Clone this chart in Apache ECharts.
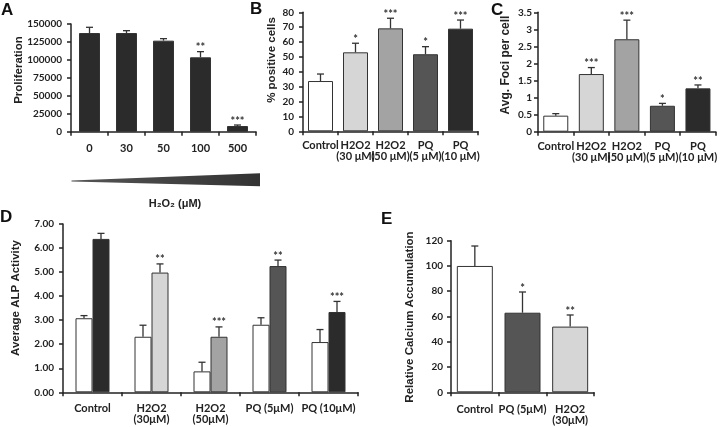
<!DOCTYPE html>
<html lang="en">
<head>
    <meta charset="UTF-8">
    <title>Oxidative stress panels</title>
    <style>
        html, body { margin: 0; padding: 0; background: #fff; }
        #main { width: 720px; height: 427px; }
    </style>
    <script src="https://cdn.jsdelivr.net/npm/echarts@6/dist/echarts.min.js"></script>
</head>
<body>
<div id="main"></div>
<script>
    // panel A - proliferation vs H2O2 dose
    const aCats = ['0', '30', '50', '100', '500'];
    const aVals = [137400, 137400, 126800, 103600, 7900];
    const aErr = [8000, 3300, 2800, 7900, 1400];
    const aStars = ['', '', '', '**', '***'];
    const aTicks = [0, 25000, 50000, 75000, 100000, 125000, 150000];

    // panel B - % positive cells
    const bCats = ['Control', 'H2O2\n(30 μM)', 'H2O2\n(50 μM)', 'PQ\n(5 μM)', 'PQ\n(10 μM)'];
    const bVals = [33.8, 53.1, 69.2, 51.8, 69];
    const bErr = [4.7, 6.1, 6.8, 5.1, 5.8];
    const bStars = ['', '*', '***', '*', '***'];

    // panel C - foci per cell
    const cCats = ['Control', 'H2O2\n(30 μM)', 'H2O2\n(50 μM)', 'PQ\n(5 μM)', 'PQ\n(10 μM)'];
    const cVals = [0.47, 1.69, 2.71, 0.76, 1.27];
    const cErr = [0.06, 0.19, 0.56, 0.07, 0.1];
    const cStars = ['', '***', '***', '*', '**'];

    // panel D - ALP activity, two bars per group
    const dCats = ['Control', 'H2O2\n(30μM)', 'H2O2\n(50μM)', 'PQ (5μM)', 'PQ (10μM)'];
    const dBase = [3.08, 2.31, 0.87, 2.81, 2.09];
    const dBaseErr = [0.11, 0.48, 0.38, 0.29, 0.52];
    const dTreat = [6.38, 4.98, 2.31, 5.25, 3.34];
    const dTreatErr = [0.23, 0.36, 0.41, 0.25, 0.44];
    const dStars = ['', '**', '***', '**', '***'];

    // panel E - calcium accumulation
    const eCats = ['Control', 'PQ (5μM)', 'H2O2\n(30μM)'];
    const eVals = [100, 63, 52];
    const eErr = [15.8, 16.4, 9.2];
    const eStars = ['', '*', '**'];

    const catColors = ['#ffffff', '#d6d6d6', '#a3a3a3', '#555555', '#2b2b2b'];
    const dColors = ['#2b2b2b', '#d6d6d6', '#a3a3a3', '#555555', '#2b2b2b'];
    const eColors = ['#ffffff', '#555555', '#d6d6d6'];

    const chartDom = document.getElementById('main');
    const myChart = echarts.init(chartDom);

    const lbl = {fontFamily: 'Lato', fontWeight: 'bold', fontSize: 10, color: '#222'};
    const axLine = {lineStyle: {color: '#222', width: 1.5}};
    const axTick = {show: true, length: 4, lineStyle: {color: '#222', width: 1.5}};

    function xAx(idx, cats, margin) {
        return {
            type: 'category', gridIndex: idx, data: cats,
            axisLine: axLine, axisTick: axTick,
            axisLabel: Object.assign({}, lbl, {margin: margin, lineHeight: 11, interval: 0, fontSize: 11})
        };
    }
    function yAx(idx, max, interval, fmt, margin) {
        return {
            type: 'value', gridIndex: idx, min: 0, max: max, interval: interval,
            axisLine: Object.assign({show: true}, axLine), axisTick: axTick,
            splitLine: {show: false},
            axisLabel: Object.assign({margin: margin || 8, formatter: fmt || (v => String(v))}, lbl)
        };
    }

    function barSeries(idx, vals, colors, width) {
        return {
            type: 'bar', xAxisIndex: idx, yAxisIndex: idx, barWidth: width, barGap: '0%',
            data: vals.map((v, i) => ({
                value: v,
                itemStyle: {color: colors[i], borderColor: '#333', borderWidth: 1}
            }))
        };
    }

    function errSeries(idx, vals, errs, stars, offset) {
        return {
            type: 'custom', xAxisIndex: idx, yAxisIndex: idx, z: 10,
            data: vals.map((v, i) => [i, v, errs[i]]),
            renderItem: function (params, api) {
                const i = api.value(0), v = api.value(1), e = api.value(2);
                const base = api.coord([i, v]);
                const top = api.coord([i, v + e]);
                const x = base[0] + offset;
                const st = {stroke: '#333', lineWidth: 1.3};
                const kids = [
                    {type: 'line', shape: {x1: x, y1: base[1], x2: x, y2: top[1]}, style: st},
                    {type: 'line', shape: {x1: x - 3.5, y1: top[1], x2: x + 3.5, y2: top[1]}, style: st}
                ];
                const s = stars[params.dataIndex];
                if (s) {
                    kids.push({
                        type: 'text', x: x, y: top[1] - 4,
                        style: {text: s, align: 'center', verticalAlign: 'middle',
                            font: 'bold 11px Lato', fill: '#333'}
                    });
                }
                return {type: 'group', children: kids};
            }
        };
    }

    function letter(t, x, y) {
        return {type: 'text', left: x, top: y,
            style: {text: t, font: 'bold 17px "Liberation Sans"', fill: '#111'}};
    }
    function yTitle(t, x, y, size) {
        return {type: 'text', x: x, y: y, rotation: Math.PI / 2,
            style: {text: t, align: 'center', verticalAlign: 'middle',
                font: 'bold ' + size + 'px "Liberation Sans"', fill: '#222'}};
    }

    let option = {
        animation: false,
        grid: [
            {left: 71, top: 24, width: 185, height: 107.7},
            {left: 303, top: 12.3, width: 175, height: 119},
            {left: 538, top: 12.3, width: 180, height: 119.4},
            {left: 63, top: 224, width: 295, height: 168.3},
            {left: 451, top: 240.7, width: 143, height: 151.6}
        ],
        xAxis: [
            xAx(0, aCats, 11),
            xAx(1, bCats, 9),
            xAx(2, cCats, 9),
            xAx(3, dCats, 11),
            xAx(4, eCats, 12)
        ],
        yAxis: [
            yAx(0, aTicks[aTicks.length - 1], 25000, null, 9),
            yAx(1, 80, 10, null, 9),
            yAx(2, 3.5, 0.5, null, 6),
            yAx(3, 7, 1, v => v.toFixed(2), 9),
            yAx(4, 120, 20, null, 8)
        ],
        series: [
            barSeries(0, aVals, aVals.map(() => '#2b2b2b'), 21),
            errSeries(0, aVals, aErr, aStars, 0),
            barSeries(1, bVals, catColors, 25),
            errSeries(1, bVals, bErr, bStars, 0),
            barSeries(2, cVals, catColors, 25),
            errSeries(2, cVals, cErr, cStars, 0),
            barSeries(3, dBase, dBase.map(() => '#ffffff'), 17),
            barSeries(3, dTreat, dColors, 17),
            errSeries(3, dBase, dBaseErr, dBase.map(() => ''), -8.5),
            errSeries(3, dTreat, dTreatErr, dStars, 8.5),
            barSeries(4, eVals, eColors, 36),
            errSeries(4, eVals, eErr, eStars, 0)
        ],
        graphic: [
            letter('A', 1, 2),
            letter('B', 250, 1),
            letter('C', 491, 2),
            letter('D', 0, 209),
            letter('E', 381, 211),
            {
                type: 'polygon',
                shape: {points: [[71.5, 180.5], [260, 173.3], [260, 186.3], [71.5, 181.5]]},
                style: {fill: new echarts.graphic.LinearGradient(0, 0, 1, 0, [
                    {offset: 0, color: '#555'}, {offset: 1, color: '#333'}])}
            },
            {type: 'text', x: 175, y: 204,
                style: {text: 'H₂O₂ (μM)', align: 'center', verticalAlign: 'middle',
                    font: 'bold 11px "Liberation Sans", "DejaVu Sans"', fill: '#222'}},
            yTitle('Proliferation', 19, 70, 11.5),
            yTitle('% positive cells', 272, 60, 11.5),
            yTitle('Avg. Foci per cell', 506, 65, 12),
            yTitle('Average ALP Activity', 16, 298, 11.5),
            yTitle('Relative Calcium Accumulation', 410, 317, 11.5)
        ]
    };

    option && myChart.setOption(option);
</script>
</body>
</html>
